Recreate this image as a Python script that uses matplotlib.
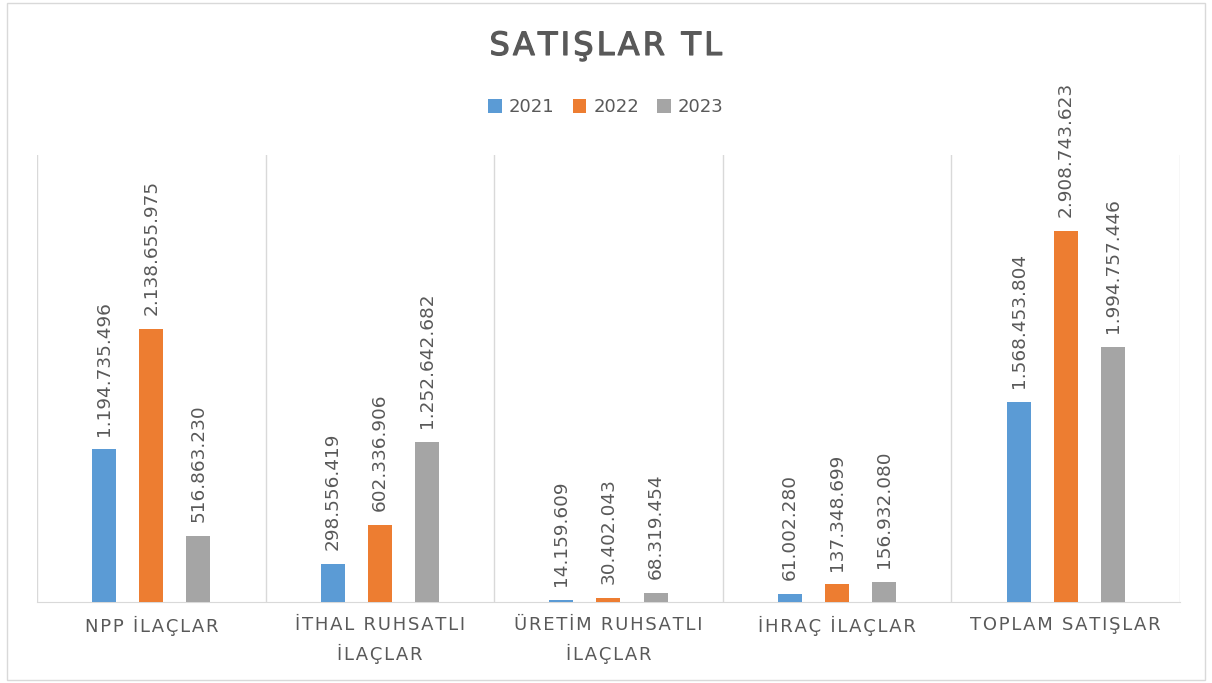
import numpy as np
import matplotlib.pyplot as plt
import matplotlib.patheffects as pe
from matplotlib.patches import Rectangle

categories = ['NPP İLAÇLAR', 'İTHAL RUHSATLI\nİLAÇLAR', 'ÜRETİM RUHSATLI\nİLAÇLAR',
              'İHRAÇ İLAÇLAR', 'TOPLAM SATIŞLAR']
years = ['2021', '2022', '2023']
s2021 = [1194735496, 298556419, 14159609, 61002280, 1568453804]
s2022 = [2138655975, 602336906, 30402043, 137348699, 2908743623]
s2023 = [516863230, 1252642682, 68319454, 156932080, 1994757446]
colors = ['#5B9BD5', '#ED7D31', '#A5A5A5']

TEXT = '#595959'
GRID = '#D9D9D9'


def fmt(v):
    return f'{v:,}'.replace(',', '.')


def spaced(s, sp='\u200a'):
    return '\n'.join(sp.join(line) for line in s.split('\n'))


fig = plt.figure(figsize=(12.12, 6.83), dpi=100)
ax = fig.add_axes([0.0305, 0.1186, 0.9431, 0.6544])

x = np.arange(len(categories))
offs = [-0.206, 0, 0.206]
w = 0.105
for vals, off, c, yr in zip([s2021, s2022, s2023], offs, colors, years):
    bars = ax.bar(x + off, vals, w, color=c, label=yr, zorder=3)
    for b, v in zip(bars, vals):
        ax.annotate(fmt(v), (b.get_x() + b.get_width() / 2, v),
                    xytext=(0, 10), textcoords='offset points',
                    rotation=90, ha='center', va='bottom',
                    fontsize=13.3, color=TEXT)

ax.set_xlim(-0.5, len(categories) - 0.5)
ax.set_ylim(0, 3.5e9)
ax.set_yticks([])
ax.set_xticks(x)
ax.set_xticklabels([spaced(c) for c in categories], fontsize=13, color=TEXT,
                   linespacing=1.6)
ax.tick_params(axis='x', length=0, pad=10)
ax.set_xticks(np.arange(-0.5, len(categories)), minor=True)
ax.tick_params(axis='x', which='minor', length=0)
ax.grid(axis='x', which='minor', color=GRID, lw=1, zorder=0)
for s in ['top', 'right', 'left']:
    ax.spines[s].set_visible(False)
ax.spines['bottom'].set_color(GRID)

fig.text(0.5, 0.932, spaced('SATIŞLAR TL'), ha='center', va='center',
         fontsize=23, color=TEXT,
         path_effects=[pe.withStroke(linewidth=0.9, foreground=TEXT)])
fig.legend(loc='center', bbox_to_anchor=(0.5, 0.843), ncol=3, frameon=False,
           fontsize=13, handlelength=0.75, handleheight=0.75, columnspacing=1.0,
           handletextpad=0.4, labelcolor=TEXT)

fig.add_artist(Rectangle((0.006, 0.005), 0.988, 0.99, transform=fig.transFigure,
                         fill=False, edgecolor=GRID, lw=1))

fig.savefig('out.png', dpi=100)
